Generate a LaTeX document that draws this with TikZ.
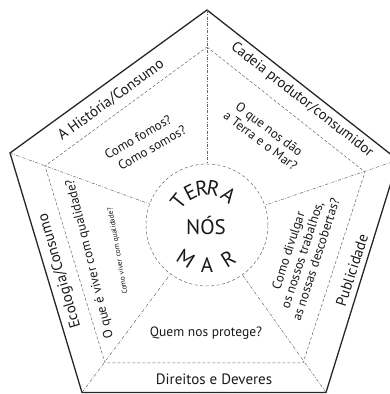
\documentclass[tikz,border=0pt]{standalone}
\usepackage{fontspec}
\setmainfont{PT Sans}
\usetikzlibrary{calc}
\begin{document}
\begin{tikzpicture}[x=1pt,y=1pt,
  outer/.style={line width=1.3pt, draw=black!85, line join=miter},
  innerp/.style={draw=black!60, line width=0.5pt, dash pattern=on 3pt off 2pt},
  spoke/.style={draw=black!60, line width=0.5pt, dash pattern=on 3pt off 1.5pt on 0.7pt off 1.5pt},
  ring/.style={draw=black!60, line width=0.5pt, dash pattern=on 3pt off 2.5pt, circle, minimum size=122pt, inner sep=0pt},
  band/.style={font=\fontsize{15}{17}\selectfont, text=black!90, inner sep=0pt},
  ques/.style={font=\fontsize{13}{14.5}\selectfont, text=black!90, inner sep=0pt, align=center},
  tiny/.style={font=\fontsize{7.5}{9}\selectfont, text=black!90, inner sep=0pt},
  letter/.style={font=\fontsize{21}{22}\selectfont, text=black!90, inner sep=0pt},
]
\useasboundingbox (0,0) rectangle (390,394);
% outer pentagon
\coordinate (OT) at (207,384);
\coordinate (OR) at (398,234);
\coordinate (OBR) at (326,1.5);
\coordinate (OBL) at (82,1.5);
\coordinate (OL) at (10,241);
% inner pentagon
\coordinate (IT) at (207,347);
\coordinate (IR) at (365,222);
\coordinate (IBR) at (303,31);
\coordinate (IBL) at (105,31);
\coordinate (IL) at (45,228);
\coordinate (C) at (207,169);

\draw[outer] (OT) -- (OR) -- (OBR) -- (OBL) -- (OL) -- cycle;
\draw[innerp] (IT) -- (IR) -- (IBR) -- (IBL) -- (IL) -- cycle;
\node[ring] (ring) at (C) {};
\foreach \v in {OT,OR,OBR,OBL,OL} \draw[spoke] (\v) -- (ring);

% band labels
\node[band, rotate=36] (hist) at (111,294) {A História/Consumo};
\node[band, font=\fontsize{14.5}{16}\selectfont, rotate=-38] (cadeia) at (302,294) {Cadeia produtor/consumidor};
\node[band, rotate=106.5] (eco) at (60,123) {Ecologia/Consumo};
\node[band, rotate=72] (pub) at (352,124) {Publicidade};
\node[band] (dir) at (214,15) {Direitos e Deveres};

% questions
\node[ques, rotate=104] (viver) at (90,135) {O que é viver com qualidade?};
\node[tiny, rotate=100] (cviver) at (118,143) {Como viver com qualidade?};
\node[ques, rotate=30] (fomos) at (138,257) {Como fomos?};
\node[ques, rotate=30] (somos) at (152,246) {Como somos?};
\node[ques, rotate=-37] (dao) at (265,259) {O que nos dão\\a Terra e o Mar?};
\node[ques, rotate=72] (divulgar) at (302,139) {Como divulgar\\os nossos trabalhos,\\as nossas descobertas?};
\node[ques, font=\fontsize{13.5}{15}\selectfont] (protege) at (206,61) {Quem nos protege?};

% centre
\node[letter] (nos) at (206,169) {NÓS};
\foreach \ch/\a [count=\i] in {T/141,E/117,R/98,R/80,A/54}
  \node[letter, rotate=\a-90] (terra\i) at ($(C)+(\a:37)$) {\ch};
\foreach \ch/\a [count=\i] in {M/238,A/270,R/302}
  \node[letter, rotate=\a+90] (mar\i) at ($(C)+(\a:40)$) {\ch};
\end{tikzpicture}
\end{document}
